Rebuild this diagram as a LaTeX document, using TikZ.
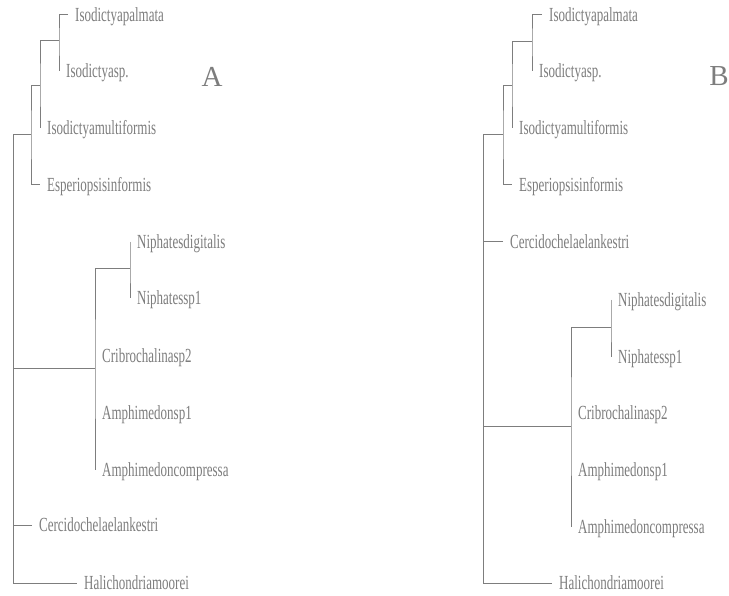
\documentclass[tikz,border=0pt]{standalone}
\usepackage{fontspec}
\usepackage{tikz}
\setmainfont{Liberation Serif}
\newfontfamily\taxfont[FakeStretch=0.65]{Liberation Serif}
\definecolor{treegray}{RGB}{125,125,125}

\begin{document}
\begin{tikzpicture}[x=1pt,y=-1pt,
    taxon/.style={anchor=west,inner xsep=7pt,inner ysep=0pt,text height=13pt,text depth=0pt,
                  text=treegray,font=\taxfont\fontsize{20}{24}\selectfont},
    panel/.style={text=treegray,font=\fontsize{29}{32}\selectfont},
    branch/.style={draw=treegray,line width=1pt}]
    \useasboundingbox (0,0) rectangle (729,596);

    % tree A
    \node[taxon] (Apal) at (68,15) {Isodictyapalmata};
    \node[taxon] (Aisp) at (59,71) {Isodictyasp.};
    \node[taxon] (Amul) at (40,128) {Isodictyamultiformis};
    \node[taxon] (Aesp) at (40,185) {Esperiopsisinformis};
    \node[taxon] (And) at (130,242) {Niphatesdigitalis};
    \node[taxon] (Ans) at (130,298) {Niphatessp1};
    \node[taxon] (Acri) at (95,356) {Cribrochalinasp2};
    \node[taxon] (Aam) at (95,413) {Amphimedonsp1};
    \node[taxon] (Aamc) at (95,470) {Amphimedoncompressa};
    \node[taxon] (Acer) at (32,525) {Cercidochelaelankestri};
    \node[taxon] (Ahal) at (77,583) {Halichondriamoorei};
    \coordinate (A1) at (59,41);
    \coordinate (A2) at (40,86);
    \coordinate (A3) at (31,135);
    \coordinate (A0) at (13,135);
    \coordinate (A4) at (130,269);
    \coordinate (A5) at (95,369);
    \node[panel] (Alab) at (212,77) {A};

    \draw[branch] (Apal.west) -| (A1) |- (Aisp.west);
    \draw[branch] (A1) -| (A2) |- (Amul.west);
    \draw[branch] (A2) -| (A3) |- (Aesp.west);
    \draw[branch] (A3) -- (A0) |- (Ahal.west);
    \draw[branch] (And.west) -| (A4) |- (Ans.west);
    \draw[branch] (A4) -| (A5) |- (Aamc.west);
    \draw[branch] (A5) -- (A5 -| A0);
    \draw[branch] (Acer.west) -- (Acer.west -| A0);

    % tree B
    \node[taxon] (Bpal) at (542,15) {Isodictyapalmata};
    \node[taxon] (Bisp) at (532,71) {Isodictyasp.};
    \node[taxon] (Bmul) at (512,128) {Isodictyamultiformis};
    \node[taxon] (Besp) at (512,185) {Esperiopsisinformis};
    \node[taxon] (Bcer) at (503,242) {Cercidochelaelankestri};
    \node[taxon] (Bnd) at (611,300) {Niphatesdigitalis};
    \node[taxon] (Bns) at (611,357) {Niphatessp1};
    \node[taxon] (Bcri) at (571,413) {Cribrochalinasp2};
    \node[taxon] (Bam) at (571,470) {Amphimedonsp1};
    \node[taxon] (Bamc) at (571,527) {Amphimedoncompressa};
    \node[taxon] (Bhal) at (552,583) {Halichondriamoorei};
    \coordinate (B1) at (532,42);
    \coordinate (B2) at (512,86);
    \coordinate (B3) at (503,135);
    \coordinate (B0) at (483,135);
    \coordinate (B4) at (611,328);
    \coordinate (B5) at (571,426);
    \node[panel] (Blab) at (719,76) {B};

    \draw[branch] (Bpal.west) -| (B1) |- (Bisp.west);
    \draw[branch] (B1) -| (B2) |- (Bmul.west);
    \draw[branch] (B2) -| (B3) |- (Besp.west);
    \draw[branch] (B3) -- (B0) |- (Bhal.west);
    \draw[branch] (Bnd.west) -| (B4) |- (Bns.west);
    \draw[branch] (B4) -| (B5) |- (Bamc.west);
    \draw[branch] (B5) -- (B5 -| B0);
    \draw[branch] (Bcer.west) -- (Bcer.west -| B0);
  \end{tikzpicture}
\end{document}
